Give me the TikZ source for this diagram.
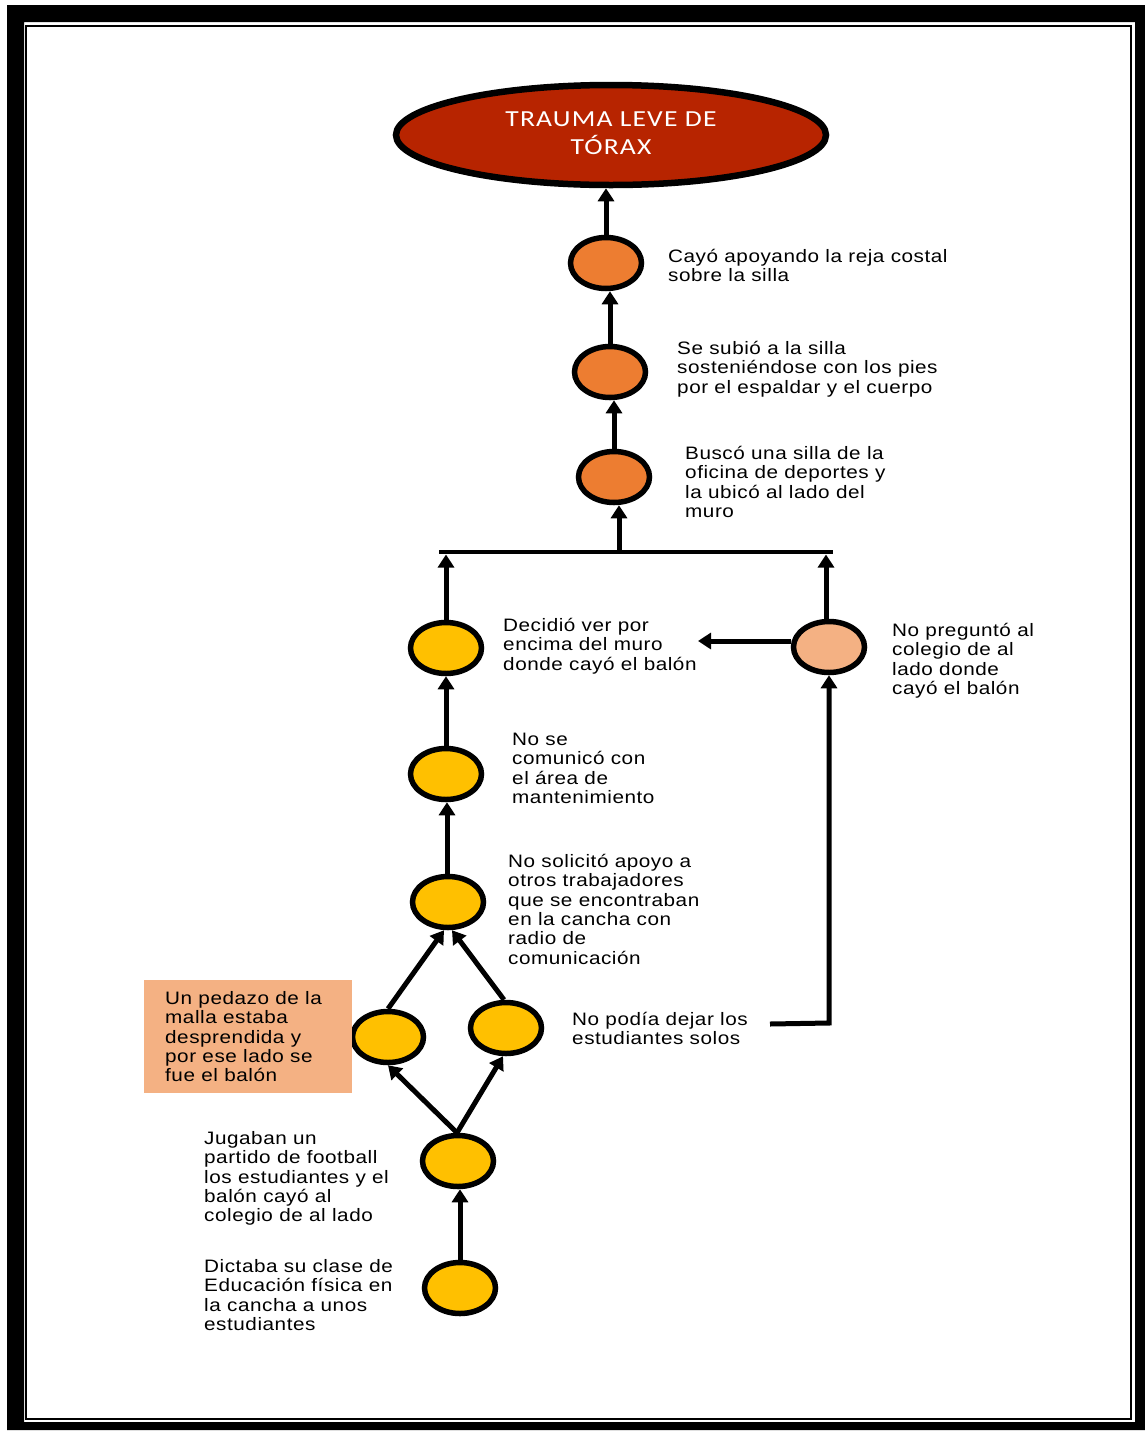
\documentclass[tikz,border=0pt]{standalone}
\usepackage{fontspec}
\setmainfont{Liberation Sans}[FakeStretch=1.15,LetterSpace=3]
\newfontfamily\titlefont{Carlito}[FakeStretch=1.2,LetterSpace=5]
\usetikzlibrary{arrows.meta,shapes.geometric}
\definecolor{darkred}{RGB}{183,36,0}
\definecolor{orng}{RGB}{237,125,49}
\definecolor{yel}{RGB}{255,192,0}
\definecolor{salmon}{RGB}{244,177,131}
\newcommand\firstl{\rule{0pt}{18pt}}
\tikzset{
  circ/.style={ellipse, draw=black, line width=5.5pt, minimum width=71pt, minimum height=51pt, inner sep=0pt},
  txt/.style={anchor=north west, inner sep=0pt, align=left, font=\fontsize{18}{19.4}\selectfont},
  arr/.style={line width=5pt, -{Triangle[width=16pt,length=13pt]}},
}
\begin{document}
\begin{tikzpicture}[x=1pt,y=-1pt]
\useasboundingbox[fill=white] (0,0) rectangle (1145,1433);
% frame
\fill[black,even odd rule] (7,5) rectangle (1145,1430) (24,22) rectangle (1135,1422);
\draw[line width=2pt] (26,26) rectangle (1131,1419);

% title ellipse
\node[ellipse, draw=black, line width=6.5pt, fill=darkred, minimum width=430pt, minimum height=100pt, inner sep=0pt, align=center, text=white, font=\titlefont\fontsize{23}{28}\selectfont] (top) at (611,135) {\rule{0pt}{22pt}TRAUMA LEVE DE\\ TÓRAX\rule[-12pt]{0pt}{0pt}};

% nodes
\node[circ, fill=orng] (n1) at (606,263) {};
\node[circ, fill=orng] (n2) at (610,372) {};
\node[circ, fill=orng] (n3) at (614,477) {};
\node[circ, fill=yel] (n4) at (446,648) {};
\node[circ, fill=salmon] (n5) at (829,647) {};
\node[circ, fill=yel] (n6) at (446,774) {};
\node[circ, fill=yel] (n7) at (448,902) {};
\node[circ, fill=yel] (n8) at (388,1037) {};
\node[circ, fill=yel] (n9) at (506,1028) {};
\node[circ, fill=yel] (n10) at (458,1161) {};
\node[circ, fill=yel] (n11) at (460,1288) {};

% box
\node[fill=salmon, minimum width=208pt, minimum height=113pt, inner sep=0pt, anchor=north west] (box) at (144,980) {};
\node[txt] (tb) at (165,986) {\firstl Un pedazo de la\\ malla estaba\\ desprendida y\\ por ese lado se\\ fue el balón};

% texts
\node[txt] (t1) at (668,244) {\firstl Cayó apoyando la reja costal\\ sobre la silla};
\node[txt] (t2) at (677,336) {\firstl Se subió a la silla\\ sosteniéndose con los pies\\ por el espaldar y el cuerpo};
\node[txt] (t3) at (685,441) {\firstl Buscó una silla de la\\ oficina de deportes y\\ la ubicó al lado del\\ muro};
\node[txt] (t4) at (503,613) {\firstl Decidió ver por\\ encima del muro\\ donde cayó el balón};
\node[txt] (t5) at (892,618) {\firstl No preguntó al\\ colegio de al\\ lado donde\\ cayó el balón};
\node[txt] (t6) at (512,727) {\firstl No se\\ comunicó con\\ el área de\\ mantenimiento};
\node[txt] (t7) at (508,849) {\firstl No solicitó apoyo a\\ otros trabajadores\\ que se encontraban\\ en la cancha con\\ radio de\\ comunicación};
\node[txt] (t9) at (572,1007) {\firstl No podía dejar los\\ estudiantes solos};
\node[txt] (t10) at (204,1126) {\firstl Jugaban un\\ partido de football\\ los estudiantes y el\\ balón cayó al\\ colegio de al lado};
\node[txt] (t11) at (204,1254) {\firstl Dictaba su clase de\\ Educación física en\\ la cancha a unos\\ estudiantes};

% bar
\coordinate (barL) at (439,552);
\coordinate (barR) at (833,552);
\coordinate (barlo) at (0,554.5);
\draw[line width=4.5pt] (barL) -- (barR);

% connectors
\draw[arr] (n1.north) -- (n1.north |- top.south);
\draw[arr] (n2.north) -- (n2.north |- n1.south);
\draw[arr] (n3.north) -- (n3.north |- n2.south);
\draw[arr] (619,550) coordinate (barmid) -- (619,0 |- n3.south);
\draw[arr] (n4.north) -- (n4.north |- barlo);
\draw[arr] ([xshift=-3pt]n5.north) -- ([xshift=-3pt]n5.north |- barlo);
\coordinate (arrend) at (698,641);
\draw[arr] (n5.west |- arrend) -- (arrend);
\draw[arr] (n6.north) -- (n6.north |- n4.south);
\draw[arr] ([xshift=-1pt]n7.north) -- ([xshift=-1pt]n7.north |- n6.south);
\draw[arr] (n8.north) -- ([xshift=-4pt]n7.south);
\draw[arr] ([xshift=-2pt]n9.north) -- ([xshift=4pt]n7.south);
\draw[arr] ([xshift=-1pt]n10.north) -- (n8.south);
\draw[arr] ([xshift=-1pt]n10.north) -- ([xshift=-3pt]n9.south);
\draw[arr] (n11.north) -- (n11.north |- n10.south);
\coordinate (c9) at (770,1024);
\draw[arr] (c9) -- (829,1023) -- (n5.south);
\end{tikzpicture}
\end{document}
